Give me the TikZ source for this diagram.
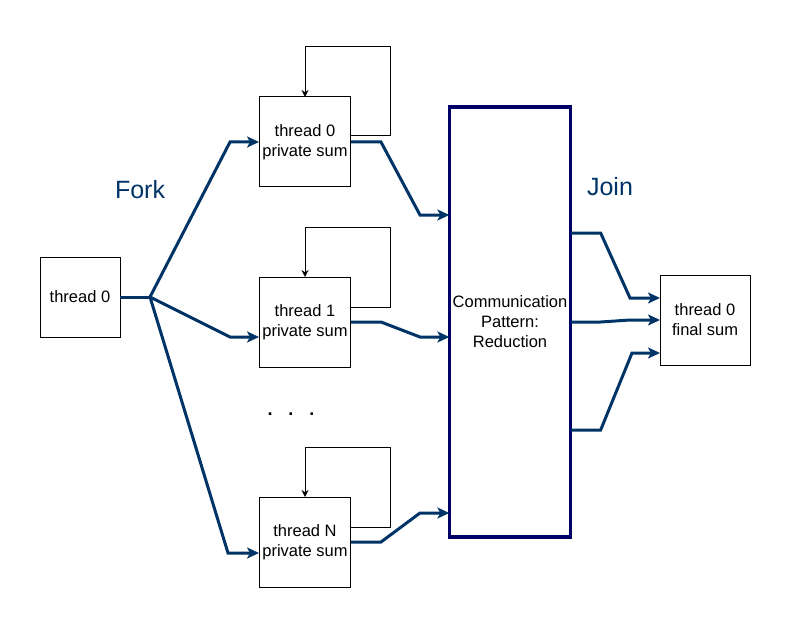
\documentclass[tikz,border=0pt]{standalone}
\usepackage{fontspec}
\setmainfont{Liberation Sans}
\usepackage{xcolor}
\usepackage{tikz}
\usetikzlibrary{arrows.meta, positioning, calc}
\definecolor{flowblue}{RGB}{0,51,102}
\definecolor{reducenavy}{RGB}{0,0,102}

\tikzset{
    threadbox/.style={draw=black, fill=white, line width=1pt, outer sep=0pt,
        minimum width=90pt, minimum height=90pt, align=center,
        font=\fontsize{16.5}{20}\selectfont},
    flow/.style={draw=flowblue, line width=3pt, line join=miter,
        -{Stealth[length=12pt,width=11pt,inset=3pt]}},
    flowline/.style={draw=flowblue, line width=3pt},
    loopline/.style={draw=black, line width=1pt, -{Stealth[length=7pt,width=7pt]}},
    phase/.style={text=flowblue, font=\fontsize{25}{30}\selectfont}
}

\begin{document}
\begin{tikzpicture}[x=1pt, y=-1pt]
\useasboundingbox (0,0) rectangle (791,628);

% threads
\node[threadbox, minimum width=80pt, minimum height=80pt] (main) at (80,297) {thread 0};
\node[threadbox] (p0) at (305,142) {thread 0\\private sum};
\node[threadbox] (p1) at (305,322) {thread 1\\private sum};
\node[threadbox] (pN) at (305,542) {thread N\\private sum};
\node[draw=reducenavy, line width=3.5pt, outer sep=0pt, minimum width=120pt,
    minimum height=430pt, align=center, font=\fontsize{16.5}{20}\selectfont]
    (reduce) at (510,322) {Communication\\Pattern:\\Reduction};
\node[threadbox] (final) at (705,320) {thread 0\\final sum};

% labels
\node[phase] (fork) at (140,190) {Fork};
\node[phase] (join) at (610,187) {Join};
\node[font=\fontsize{18}{22}\selectfont\bfseries] (dots) at (291,414)
    {.\hspace{16pt}.\hspace{16pt}.};

% fork
\coordinate (fk) at (150,297);
\draw[flowline] (main.east) -- (fk);
\draw[flow] (fk) -- (230,142) -- (p0.west);
\draw[flow] (fk) -- (230,337) -- ([yshift=-15pt]p1.west);
\draw[flow] (fk) -- (228,553) -- ([yshift=-11pt]pN.west);

% local sums
\draw[loopline] ([yshift=6pt]p0.east) -- ++(40,0) |- ([yshift=50pt]p0.north) -- (p0.north);
\draw[loopline] ([yshift=15pt]p1.east) -- ++(40,0) |- ([yshift=50pt]p1.north) -- (p1.north);
\draw[loopline] ([yshift=15pt]pN.east) -- ++(40,0) |- ([yshift=50pt]pN.north) -- (pN.north);

% into reduction
\draw[flow] (p0.east) -- ++(30,0) -- (420,215) -- (reduce.west |- 0,215);
\draw[flow] (p1.east) -- ++(30,0) -- (420,337) -- (reduce.west |- 0,337);
\draw[flow] (pN.east) -- ++(30,0) -- (420,513) -- (reduce.west |- 0,513);

% join
\draw[flow] ([yshift=89pt]reduce.east) -- ++(30,0) -- (630,298) -- ([yshift=22pt]final.west);
\draw[flow] (reduce.east) -- ++(30,0) -- (630,320) -- (final.west);
\draw[flow] ([yshift=-108pt]reduce.east) -- ++(30,0) -- (632,353) -- ([yshift=-33pt]final.west);
\end{tikzpicture}
\end{document}
